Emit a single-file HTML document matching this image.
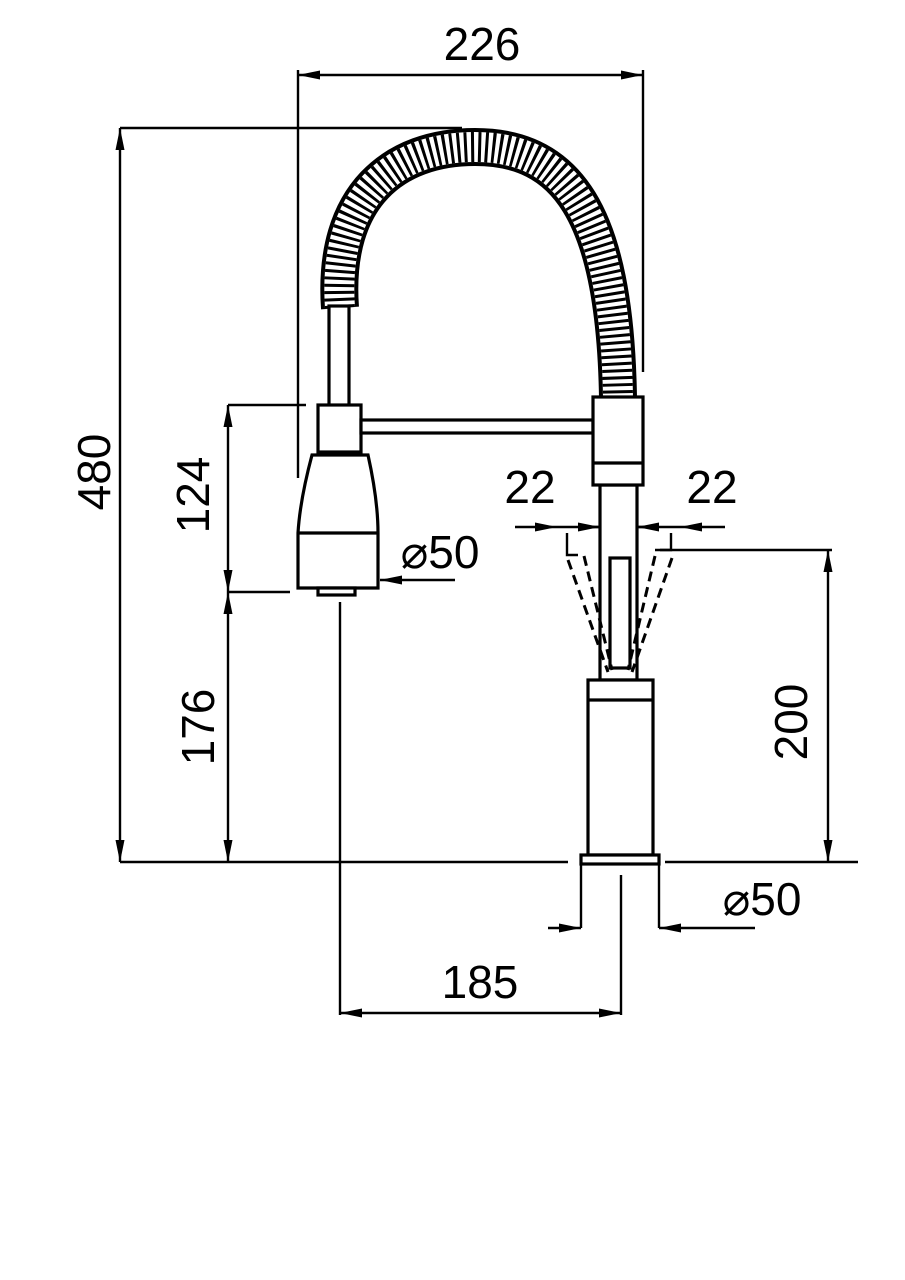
<!DOCTYPE html>
<html><head><style>body{margin:0;background:#fff}svg{display:block}text{font-family:"Liberation Sans",sans-serif;fill:#000}</style></head>
<body>
<svg width="905" height="1280" viewBox="0 0 905 1280" xmlns="http://www.w3.org/2000/svg">
<defs>
<marker id="a" viewBox="0 0 22 9" refX="22" refY="4.5" markerWidth="22" markerHeight="9" markerUnits="userSpaceOnUse" orient="auto-start-reverse"><path d="M0,0 L22,4.5 L0,9 Z" fill="#000"/></marker>
</defs>
<g stroke="#000" stroke-width="2.4" fill="none">
<line x1="298" y1="75" x2="643" y2="75" marker-start="url(#a)" marker-end="url(#a)"/>
<line x1="298" y1="70" x2="298" y2="478"/>
<line x1="643" y1="70" x2="643" y2="372"/>
<line x1="120" y1="128" x2="120" y2="862" marker-start="url(#a)" marker-end="url(#a)"/>
<line x1="120" y1="128" x2="462" y2="128"/>
<line x1="120" y1="862" x2="568" y2="862"/>
<line x1="665" y1="862" x2="858" y2="862"/>
<line x1="228" y1="405" x2="228" y2="592" marker-start="url(#a)" marker-end="url(#a)"/>
<line x1="228" y1="592" x2="228" y2="862" marker-start="url(#a)" marker-end="url(#a)"/>
<line x1="228" y1="405" x2="306" y2="405"/>
<line x1="228" y1="592" x2="290" y2="592"/>
<line x1="828" y1="550" x2="828" y2="862" marker-start="url(#a)" marker-end="url(#a)"/>
<line x1="655" y1="550" x2="832" y2="550"/>
<line x1="515" y1="527" x2="557" y2="527" marker-end="url(#a)"/>
<line x1="580" y1="527" x2="600" y2="527" marker-end="url(#a)"/>
<line x1="657" y1="527" x2="637" y2="527" marker-end="url(#a)"/>
<line x1="725" y1="527" x2="680" y2="527" marker-end="url(#a)"/>
<line x1="557" y1="527" x2="680" y2="527"/>
<polyline points="567,533 567,555 578,555"/>
<polyline points="671,533 671,550 660,550"/>
<line x1="620" y1="527" x2="620" y2="550"/>
<line x1="455" y1="580" x2="380" y2="580" marker-end="url(#a)"/>
<line x1="581" y1="864" x2="581" y2="928"/>
<line x1="659" y1="864" x2="659" y2="928"/>
<line x1="548" y1="928" x2="581" y2="928" marker-end="url(#a)"/>
<line x1="755" y1="928" x2="659" y2="928" marker-end="url(#a)"/>
<line x1="340" y1="602" x2="340" y2="1015"/>
<line x1="621" y1="875" x2="621" y2="1015"/>
<line x1="340" y1="1013" x2="621" y2="1013" marker-start="url(#a)" marker-end="url(#a)"/>
</g>
<path d="M340 308 C 332 195, 395 147, 475 147 C 565 147, 615 210, 618 398" fill="none" stroke="#000" stroke-width="38"/>
<path d="M340 308 C 332 195, 395 147, 475 147 C 565 147, 615 210, 618 398" fill="none" stroke="#fff" stroke-width="30"/>
<path d="M340 308 C 332 195, 395 147, 475 147 C 565 147, 615 210, 618 398" fill="none" stroke="#000" stroke-width="30" stroke-dasharray="3 4"/>
<g stroke="#000" stroke-width="3.2" fill="#fff">
<rect x="329" y="306" width="20" height="100"/>
<rect x="318" y="405" width="43" height="47"/>
<rect x="361" y="420" width="232" height="13"/>
<path d="M312 455 L368 455 Q378 500 378 533 L378 588 L298 588 L298 533 Q300 500 312 455 Z"/>
<line x1="298" y1="533" x2="378" y2="533"/>
<rect x="318" y="588" width="37" height="7"/>
<rect x="600" y="485" width="37" height="195"/>
<rect x="593" y="397" width="50" height="88"/>
<line x1="593" y1="463" x2="643" y2="463"/>
<rect x="610" y="558" width="20" height="110"/>
<rect x="588" y="680" width="65" height="175"/>
<line x1="588" y1="700" x2="653" y2="700"/>
<rect x="581" y="855" width="78" height="9"/>
</g>
<g stroke="#000" stroke-width="3" fill="none" stroke-dasharray="10 6">
<line x1="568" y1="560" x2="608" y2="672"/>
<line x1="584" y1="556" x2="612" y2="670"/>
<line x1="672" y1="558" x2="632" y2="672"/>
<line x1="655" y1="556" x2="628" y2="670"/>
</g>
<g font-size="46">
<text x="482" y="60" text-anchor="middle">226</text>
<text transform="translate(110,472) rotate(-90)" text-anchor="middle">480</text>
<text transform="translate(209,495) rotate(-90)" text-anchor="middle">124</text>
<text transform="translate(214,727) rotate(-90)" text-anchor="middle">176</text>
<text transform="translate(807,722) rotate(-90)" text-anchor="middle">200</text>
<text x="530" y="503" text-anchor="middle">22</text>
<text x="712" y="503" text-anchor="middle">22</text>
<text x="440" y="568" text-anchor="middle">⌀50</text>
<text x="762" y="915" text-anchor="middle">⌀50</text>
<text x="480" y="998" text-anchor="middle">185</text>
</g>
</svg>
</body></html>
